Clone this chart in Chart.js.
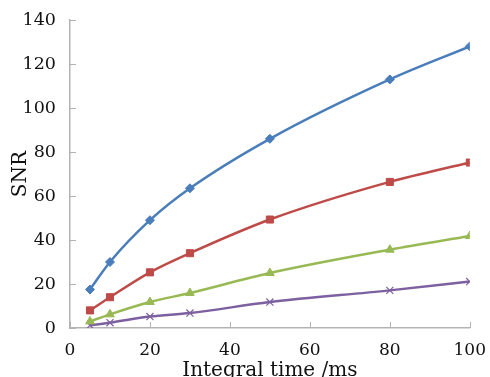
<!DOCTYPE html>
<html lang="en">
<head>
  <meta charset="UTF-8">
  <title>SNR vs Integral time</title>
  <script src="https://cdn.jsdelivr.net/npm/chart.js"></script>
  <style>
    html, body { margin: 0; padding: 0; background: #fff; }
    #wrap { width: 490px; height: 377px; }
  </style>
</head>
<body>
  <div id="wrap"><canvas id="chartSnr"></canvas></div>

  <script>
    const times = [5, 10, 20, 30, 50, 80, 100];
    const snrBlue = [17.5, 30, 49, 63.5, 86, 113, 128];
    const snrRed = [8, 14, 25.3, 34, 49.3, 66.4, 75.2];
    const snrGreen = [3, 6.2, 11.8, 15.9, 25, 35.6, 41.8];
    const snrPurple = [1.2, 2.4, 5.2, 6.8, 11.8, 17.1, 21.1];

    const axisColor = '#b3b3b3';
    const font = { family: '"DejaVu Serif", serif', size: 17.5 };

    const toPoints = vals => vals.map((v, i) => ({ x: times[i], y: v }));

    const makeSet = (vals, color, style, radius) => ({
      data: toPoints(vals),
      borderColor: color,
      backgroundColor: color,
      borderWidth: 2.5,
      pointStyle: style,
      pointRadius: radius,
      pointHoverRadius: radius,
      pointBorderWidth: style === 'crossRot' ? 1.2 : 1,
      cubicInterpolationMode: 'monotone',
      fill: false
    });

    // small tick marks pointing into the plot area
    const innerTicks = {
      id: 'innerTicks',
      afterDraw(chart) {
        const { ctx, chartArea, scales } = chart;
        ctx.save();
        ctx.strokeStyle = axisColor;
        ctx.lineWidth = 1;
        ctx.beginPath();
        scales.x.ticks.forEach(t => {
          const px = Math.round(scales.x.getPixelForValue(t.value)) + 0.5;
          ctx.moveTo(px, chartArea.bottom);
          ctx.lineTo(px, chartArea.bottom - 6);
        });
        scales.y.ticks.forEach(t => {
          const py = Math.round(scales.y.getPixelForValue(t.value)) + 0.5;
          ctx.moveTo(chartArea.left, py);
          ctx.lineTo(chartArea.left + 6, py);
        });
        ctx.stroke();
        ctx.restore();
      }
    };

    new Chart(document.getElementById('chartSnr'), {
      type: 'line',
      data: {
        datasets: [
          makeSet(snrBlue, '#4a7ebb', 'rectRot', 4.5),
          makeSet(snrRed, '#be4b48', 'rect', 5),
          makeSet(snrGreen, '#98b954', 'triangle', 5),
          makeSet(snrPurple, '#7d60a0', 'crossRot', 5)
        ]
      },
      options: {
        responsive: true,
        maintainAspectRatio: false,
        animation: false,
        layout: { padding: { top: 20, right: 18, left: 0, bottom: 0 } },
        plugins: { legend: { display: false }, tooltip: { enabled: false } },
        scales: {
          x: {
            type: 'linear',
            min: 0,
            max: 100,
            border: { color: axisColor, width: 1.5 },
            grid: { display: false },
            ticks: { stepSize: 20, color: '#111', font: { family: font.family, size: 17 }, padding: 4 },
            title: { display: true, text: 'Integral time /ms', color: '#111', font: { family: font.family, size: 20 }, padding: { top: 0, bottom: -6 } },
            afterFit(scale) { scale.height = 49; }
          },
          y: {
            min: 0,
            max: 140,
            border: { color: axisColor, width: 1.5 },
            grid: { display: false },
            ticks: { stepSize: 20, color: '#111', font: font, padding: 6 },
            title: { display: true, text: 'SNR', color: '#111', font: { family: font.family, size: 20 }, padding: { bottom: 0, top: 9 } },
            afterFit(scale) { scale.width = 70; }
          }
        }
      },
      plugins: [innerTicks]
    });
  </script>
</body>
</html>
